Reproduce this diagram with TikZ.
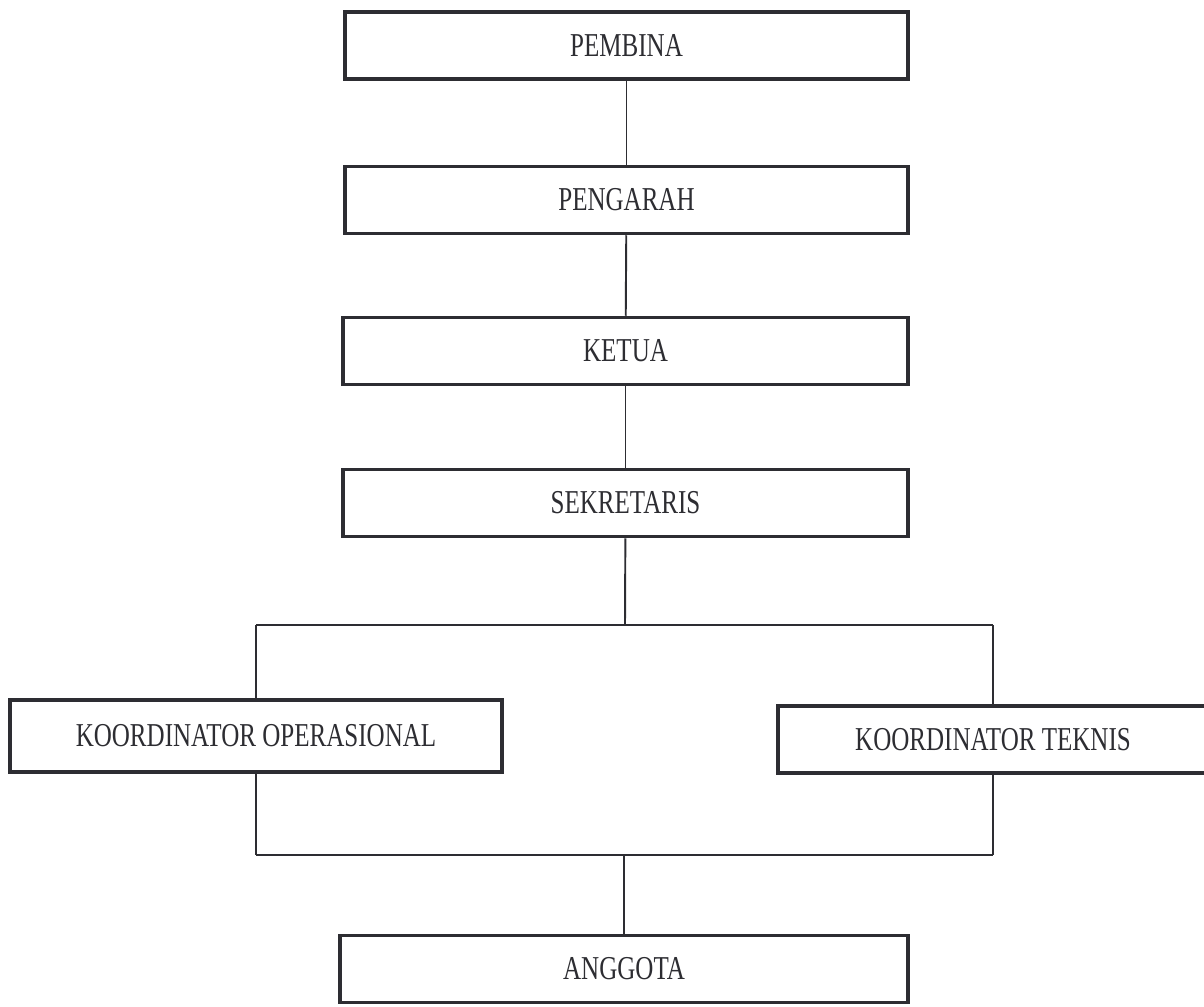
\documentclass[tikz,border=0pt]{standalone}
\usepackage{fontspec}
\setmainfont{Liberation Serif}[FakeStretch=0.75]
\usepackage{tikz}
\usetikzlibrary{positioning,calc}
\definecolor{inkgray}{RGB}{45,45,50}

\begin{document}
\begin{tikzpicture}[
    x=0.02cm, y=-0.02cm,
    unit/.style={rectangle, draw=inkgray, line width=2pt, fill=white, minimum width=11.26cm, minimum height=1.34cm, align=center, font=\fontsize{19}{22}\selectfont, text=inkgray},
    link/.style={draw=inkgray, line width=1.1pt}
]
    \useasboundingbox (0,0) rectangle (1204,1007);

    % Garis pimpinan
    \node[unit] (pembina) at (626.5,45.5) {PEMBINA};
    \node[unit] (pengarah) at (626.5,200) {PENGARAH};
    \node[unit, minimum width=11.3cm] (ketua) at (625.5,351) {KETUA};
    \node[unit, minimum width=11.3cm] (sekretaris) at (625.5,503) {SEKRETARIS};

    % Koordinator
    \node[unit, minimum width=9.84cm, minimum height=1.44cm] (koordop) at (256,736) {KOORDINATOR OPERASIONAL};
    \node[unit, minimum width=8.6cm] (koordtek) at (993,739.5) {KOORDINATOR TEKNIS};

    % Anggota
    \node[unit, minimum width=11.36cm] (anggota) at (624,969) {ANGGOTA};

    \coordinate (split) at (625,625);
    \coordinate (topleft) at (koordop.north |- split);
    \coordinate (topright) at (koordtek.north |- split);
    \coordinate (botleft) at ($(koordop.south |- 0,855)$);
    \coordinate (botright) at ($(koordtek.south |- 0,855)$);
    \coordinate (merge) at (anggota.north |- botleft);

    \draw[link] (pembina) -- (pengarah);
    \draw[link] (pengarah) -- (ketua);
    \draw[link] (ketua) -- (sekretaris);
    \draw[link] (sekretaris) -- (split);
    \draw[link] (topleft) -- (topright);
    \draw[link] (topleft) -- (koordop);
    \draw[link] (topright) -- (koordtek);
    \draw[link] (koordop) -- (botleft);
    \draw[link] (koordtek) -- (botright);
    \draw[link] (botleft) -- (botright);
    \draw[link] (merge) -- (anggota);
\end{tikzpicture}
\end{document}
